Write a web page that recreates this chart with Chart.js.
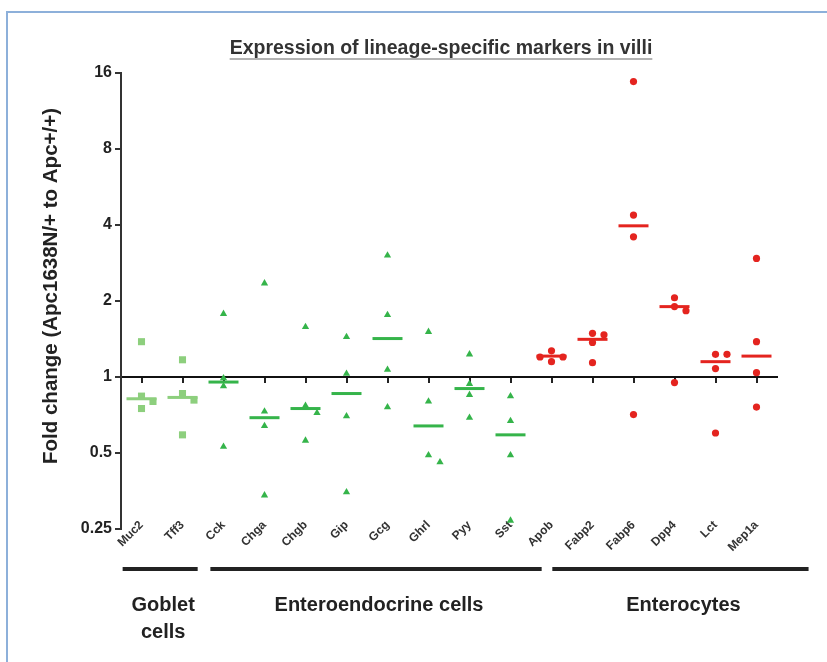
<!DOCTYPE html>
<html>
<head>
<meta charset="utf-8">
<script src="https://cdn.jsdelivr.net/npm/chart.js@4.4.1/dist/chart.umd.min.js"></script>
<style>
  body { margin: 0; background: #fff; }
  #frame { position: absolute; left: 6px; top: 11px; width: 900px; height: 700px;
           border-left: 2px solid #8db0da; border-top: 2px solid #8db0da; }
  #wrap { position: absolute; left: 0; top: 0; width: 827px; height: 662px; }
</style>
</head>
<body>
<div id="frame"></div>
<div id="wrap"><canvas id="markerChart"></canvas></div>
<script>
// categories along the x axis, in drawing order
const categories = ['Muc2', 'Tff3', 'Cck', 'Chga', 'Chgb', 'Gip', 'Gcg', 'Ghrl',
                    'Pyy', 'Sst', 'Apob', 'Fabp2', 'Fabp6', 'Dpp4', 'Lct', 'Mep1a'];

// fold change of each replicate, one list per marker
const gobletValues = [
  [1.38, 0.84, 0.80, 0.75],   // Muc2
  [1.17, 0.86, 0.81, 0.59]    // Tff3
];
const enteroendocrineValues = [
  [1.78, 0.99, 0.92, 0.53],   // Cck
  [2.35, 0.73, 0.64, 0.34],   // Chga
  [1.58, 0.77, 0.72, 0.56],   // Chgb
  [1.44, 1.03, 0.70, 0.35],   // Gip
  [3.03, 1.76, 1.07, 0.76],   // Gcg
  [1.51, 0.80, 0.49, 0.46],   // Ghrl
  [1.23, 0.94, 0.85, 0.69],   // Pyy
  [0.84, 0.67, 0.49, 0.27]    // Sst
];
const enterocyteValues = [
  [1.27, 1.20, 1.20, 1.15],   // Apob
  [1.49, 1.47, 1.37, 1.14],   // Fabp2
  [14.8, 4.38, 3.59, 0.71],   // Fabp6
  [2.06, 1.90, 1.83, 0.95],   // Dpp4
  [1.23, 1.23, 1.08, 0.60],   // Lct
  [2.95, 1.38, 1.04, 0.76]    // Mep1a
];

// median bars
const gobletMedians = [0.82, 0.83];
const enteroendocrineMedians = [0.955, 0.69, 0.75, 0.86, 1.42, 0.64, 0.90, 0.59];
const enterocyteMedians = [1.21, 1.41, 3.97, 1.90, 1.15, 1.21];

const groupLabels = [['Goblet', 'cells'], ['Enteroendocrine cells'], ['Enterocytes']];
const yTicks = [0.25, 0.5, 1, 2, 4, 8, 16];

const titleText = 'Expression of lineage-specific markers in villi';
const yTitle = 'Fold change (Apc1638N/+ to Apc+/+)';

const groupStarts = [0, gobletValues.length, gobletValues.length + enteroendocrineValues.length];
const groupEnds = [groupStarts[1] - 1, groupStarts[2] - 1, categories.length - 1];

// replicates that would overlap get nudged sideways (like the prism scatter)
function toPoints(valueLists, start) {
  const pts = [];
  valueLists.forEach((vals, k) => {
    const placed = [];
    [...vals].sort((a, b) => b - a).forEach(v => {
      const slot = [0, 0.28, -0.28].find(s =>
        !placed.some(p => p.s === s && Math.abs(Math.log2(p.v) - Math.log2(v)) < 0.1));
      const s = slot === undefined ? 0 : slot;
      placed.push({ s: s, v: v });
      pts.push({ x: start + k + s, y: v });
    });
  });
  return pts;
}

function toMedians(meds, start) {
  return meds.map((m, k) => ({ x: start + k, y: m }));
}

const lightGreen = '#8dcf7d';
const green = '#35b44a';
const red = '#e4241f';
const ink = '#222';
const fontFamily = '"Liberation Sans", Arial, sans-serif';

function categoryTicks(scale) {
  scale.ticks = categories.map((c, i) => ({ value: i }));
}

// title with underline, y title, group bars/labels under the axis
const decorations = {
  id: 'decorations',
  afterDraw(chart) {
    const ctx = chart.ctx;
    const x = chart.scales.x;
    const y = chart.scales.y;
    ctx.save();
    ctx.fillStyle = '#333';
    ctx.font = 'bold 19.5px ' + fontFamily;
    ctx.textAlign = 'center';
    ctx.textBaseline = 'middle';
    const cx = 441;
    ctx.fillText(titleText, cx, 49);
    const w = ctx.measureText(titleText).width;
    ctx.strokeStyle = '#9a9a9a';
    ctx.lineWidth = 1.5;
    ctx.beginPath();
    ctx.moveTo(cx - w / 2, 59);
    ctx.lineTo(cx + w / 2, 59);
    ctx.stroke();

    // y axis title, sits a little below the middle of the axis
    ctx.save();
    ctx.fillStyle = ink;
    ctx.font = 'bold 20.5px ' + fontFamily;
    ctx.translate(51, (y.top + y.bottom) / 2 - 15);
    ctx.rotate(-Math.PI / 2);
    ctx.fillText(yTitle, 0, 0);
    ctx.restore();

    // group bars
    const barPad = [[-0.46, 0.37], [-0.32, 0.76], [0.02, 1.27]];
    ctx.strokeStyle = ink;
    ctx.lineWidth = 4;
    ctx.fillStyle = ink;
    ctx.font = 'bold 20px ' + fontFamily;
    groupLabels.forEach((lines, g) => {
      const x0 = x.getPixelForValue(groupStarts[g] + barPad[g][0]);
      const x1 = x.getPixelForValue(groupEnds[g] + barPad[g][1]);
      ctx.beginPath();
      ctx.moveTo(x0, 569);
      ctx.lineTo(x1, 569);
      ctx.stroke();
      lines.forEach((t, j) => ctx.fillText(t, (x0 + x1) / 2 + 3, 605 + j * 27));
    });
    ctx.restore();
  }
};

new Chart(document.getElementById('markerChart'), {
  type: 'scatter',
  data: {
    datasets: [
      { data: toMedians(gobletMedians, groupStarts[0]), pointStyle: 'line', pointRadius: 15,
        borderColor: lightGreen, borderWidth: 3 },
      { data: toMedians(enteroendocrineMedians, groupStarts[1]), pointStyle: 'line', pointRadius: 15,
        borderColor: green, borderWidth: 3 },
      { data: toMedians(enterocyteMedians, groupStarts[2]), pointStyle: 'line', pointRadius: 15,
        borderColor: red, borderWidth: 3 },
      { data: toPoints(gobletValues, groupStarts[0]), pointStyle: 'rect', pointRadius: 5,
        backgroundColor: lightGreen, borderWidth: 0 },
      { data: toPoints(enteroendocrineValues, groupStarts[1]), pointStyle: 'triangle', pointRadius: 4.2,
        backgroundColor: green, borderWidth: 0 },
      { data: toPoints(enterocyteValues, groupStarts[2]), pointStyle: 'circle', pointRadius: 3.6,
        backgroundColor: red, borderWidth: 0 }
    ]
  },
  options: {
    responsive: true,
    maintainAspectRatio: false,
    animation: false,
    events: [],
    layout: { padding: { top: 73, right: 50, bottom: 133, left: 0 } },
    plugins: { legend: { display: false }, tooltip: { enabled: false }, title: { display: false } },
    scales: {
      // marker names, hung from the foot of the y axis
      x: {
        type: 'linear',
        min: -0.5,
        max: 15.5,
        position: { y: 0.25 },
        afterBuildTicks: categoryTicks,
        border: { display: false },
        grid: { display: false, drawTicks: false },
        ticks: {
          autoSkip: false,
          minRotation: 45,
          maxRotation: 45,
          padding: -11,
          color: '#333',
          font: { family: fontFamily, size: 12, weight: 'bold' },
          callback: v => categories[v]
        }
      },
      // the reference line at fold change 1, with small ticks under each marker
      x1: {
        type: 'linear',
        min: -0.5,
        max: 15.5,
        position: { y: 1 },
        afterBuildTicks: categoryTicks,
        border: { display: true, color: '#111', width: 2 },
        grid: { drawOnChartArea: false, drawTicks: true, tickLength: 5, color: '#222', lineWidth: 2 },
        ticks: { display: false }
      },
      y: {
        type: 'logarithmic',
        min: 0.25,
        max: 16,
        afterBuildTicks: s => { s.ticks = yTicks.map(v => ({ value: v })); },
        afterFit: s => { s.width = 121; },
        border: { display: true, color: '#333', width: 2 },
        grid: { drawOnChartArea: false, drawTicks: true, tickLength: 6, color: '#333', lineWidth: 2 },
        ticks: {
          padding: 3,
          color: ink,
          font: { family: fontFamily, size: 16, weight: 'bold' },
          callback: v => String(v)
        }
      }
    }
  },
  plugins: [decorations]
});
</script>
</body>
</html>
